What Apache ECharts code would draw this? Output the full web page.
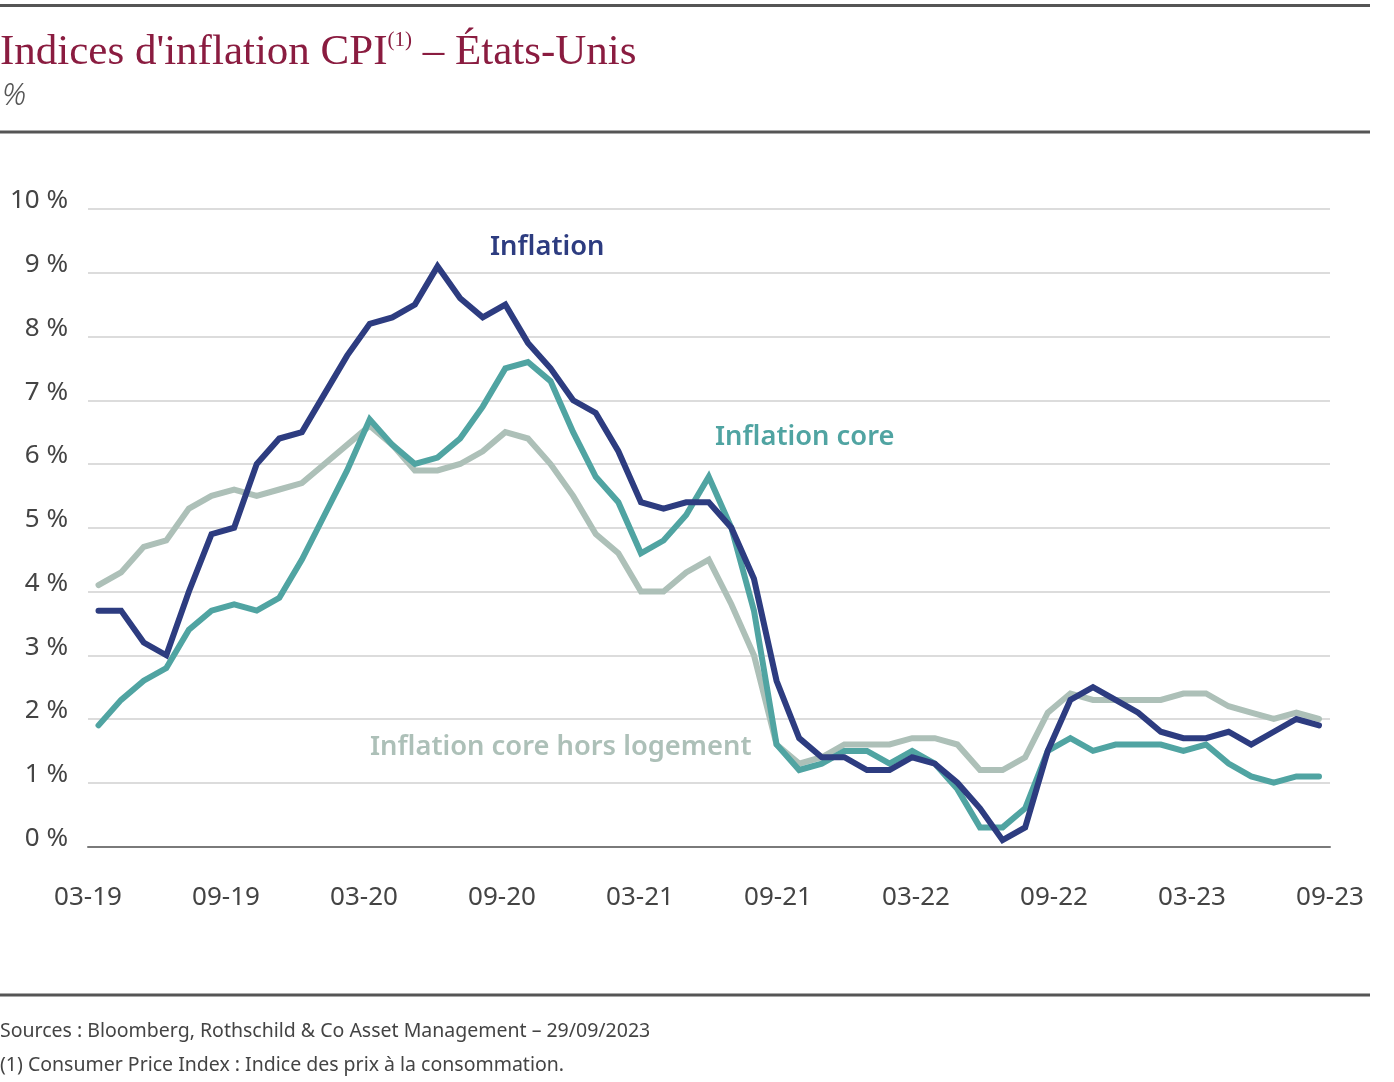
<!DOCTYPE html>
<html><head><meta charset="utf-8">
<script src="https://cdn.jsdelivr.net/npm/echarts@6/dist/echarts.min.js"></script>
<style>html,body{margin:0;padding:0;background:#fff}#c{width:1394px;height:1082px}</style>
</head><body><div id="c"></div>
<script>
const months = ["03-19","04-19","05-19","06-19","07-19","08-19","09-19","10-19","11-19","12-19",
"01-20","02-20","03-20","04-20","05-20","06-20","07-20","08-20","09-20","10-20","11-20","12-20",
"01-21","02-21","03-21","04-21","05-21","06-21","07-21","08-21","09-21","10-21","11-21","12-21",
"01-22","02-22","03-22","04-22","05-22","06-22","07-22","08-22","09-22","10-22","11-22","12-22",
"01-23","02-23","03-23","04-23","05-23","06-23","07-23","08-23","09-23"];
const inflation = [3.7,3.7,3.2,3.0,4.0,4.9,5.0,6.0,6.4,6.5,7.1,7.7,8.2,8.3,8.5,9.1,8.6,8.3,8.5,7.9,7.5,7.0,6.8,6.2,5.4,5.3,5.4,5.4,5.0,4.2,2.6,1.7,1.4,1.4,1.2,1.2,1.4,1.3,1.0,0.6,0.1,0.3,1.5,2.3,2.5,2.3,2.1,1.8,1.7,1.7,1.8,1.6,1.8,2.0,1.9];
const core = [1.9,2.3,2.6,2.8,3.4,3.7,3.8,3.7,3.9,4.5,5.2,5.9,6.7,6.3,6.0,6.1,6.4,6.9,7.5,7.6,7.3,6.5,5.8,5.4,4.6,4.8,5.2,5.8,5.0,3.7,1.6,1.2,1.3,1.5,1.5,1.3,1.5,1.3,0.9,0.3,0.3,0.6,1.5,1.7,1.5,1.6,1.6,1.6,1.5,1.6,1.3,1.1,1.0,1.1,1.1];
const coreExHousing = [4.1,4.3,4.7,4.8,5.3,5.5,5.6,5.5,5.6,5.7,6.0,6.3,6.6,6.3,5.9,5.9,6.0,6.2,6.5,6.4,6.0,5.5,4.9,4.6,4.0,4.0,4.3,4.5,3.8,3.0,1.6,1.3,1.4,1.6,1.6,1.6,1.7,1.7,1.6,1.2,1.2,1.4,2.1,2.4,2.3,2.3,2.3,2.3,2.4,2.4,2.2,2.1,2.0,2.1,2.0];
const seriesNames = ["Inflation", "Inflation core", "Inflation core hors logement"];
const colors = ["#2d3c80", "#50a4a2", "#adc0b8"];

const chart = echarts.init(document.getElementById('c'), null, {renderer: 'canvas'});
const sans = 'Noto Sans';
function lineSeries(name, data, color, z) {
  return {name, type: 'line', xAxisIndex: 1, yAxisIndex: 1, data, symbol: 'none', z,
    lineStyle: {color, width: 6, cap: 'round', join: 'miter'}};
}
chart.setOption({
  animation: false,
  backgroundColor: '#fff',
  grid: [
    {left: 88, right: 64, top: 209, bottom: 235.5},
    {left: 98.5, right: 75, top: 209, bottom: 235.5}
  ],
  xAxis: [
    {gridIndex: 0, type: 'category', data: months, boundaryGap: false,
     axisLine: {show: true, lineStyle: {color: '#7a7a7a', width: 2}},
     axisTick: {show: false}, splitLine: {show: false},
     axisLabel: {interval: 5, color: '#444', fontSize: 26, fontFamily: sans, margin: 38, lineHeight: 26}},
    {gridIndex: 1, type: 'category', data: months, boundaryGap: false, show: false}
  ],
  yAxis: [
    {gridIndex: 0, type: 'value', min: 0, max: 10, interval: 1,
     axisLine: {show: false}, axisTick: {show: false},
     splitLine: {lineStyle: {color: '#dcdcdc', width: 2}},
     axisLabel: {formatter: v => v + ' %', color: '#444', fontSize: 26, fontFamily: sans, margin: 20, lineHeight: 16, verticalAlign: 'bottom'}},
    {gridIndex: 1, type: 'value', min: 0, max: 10, interval: 1, show: false, splitLine: {show: false}}
  ],
  series: [
    lineSeries(seriesNames[2], coreExHousing, colors[2], 2),
    lineSeries(seriesNames[1], core, colors[1], 3),
    lineSeries(seriesNames[0], inflation, colors[0], 4)
  ],
  graphic: [
    {type: 'rect', shape: {x: 0, y: 4, width: 1370, height: 3}, style: {fill: '#555'}},
    {type: 'rect', shape: {x: 0, y: 130.5, width: 1370, height: 3}, style: {fill: '#555'}},
    {type: 'rect', shape: {x: 0, y: 993.5, width: 1370, height: 3}, style: {fill: '#555'}},
    {type: 'text', x: 0, y: 53, style: {
      text: "{a|Indices d'inflation CPI}{s|(1)}{a| – États-Unis}",
      textVerticalAlign: 'middle',
      rich: {
        a: {fontFamily: 'Liberation Serif', fontSize: 43, fill: '#8a1c40', lineHeight: 46},
        s: {fontFamily: 'Liberation Serif', fontSize: 21, fill: '#8a1c40', verticalAlign: 'top', lineHeight: 22}
      }}},
    {type: 'text', x: 2, y: 96, style: {text: '%', fontFamily: sans, fontStyle: 'italic', fontWeight: 300, fontSize: 31, fill: '#555', textVerticalAlign: 'middle'}},
    {type: 'text', x: 490, y: 247, style: {text: seriesNames[0], fontFamily: sans, fontWeight: 600, fontSize: 27.3, fill: colors[0], textVerticalAlign: 'middle'}},
    {type: 'text', x: 715, y: 437, style: {text: seriesNames[1], fontFamily: sans, fontWeight: 600, fontSize: 27.3, fill: colors[1], textVerticalAlign: 'middle'}},
    {type: 'text', x: 370, y: 747, style: {text: seriesNames[2], fontFamily: sans, fontWeight: 600, fontSize: 27.3, fill: colors[2], textVerticalAlign: 'middle'}},
    {type: 'text', x: 0, y: 1031, style: {text: 'Sources : Bloomberg, Rothschild & Co Asset Management – 29/09/2023', fontFamily: sans, fontSize: 19.5, fill: '#444', textVerticalAlign: 'middle'}},
    {type: 'text', x: 0, y: 1065, style: {text: '(1) Consumer Price Index : Indice des prix à la consommation.', fontFamily: sans, fontSize: 19.5, fill: '#444', textVerticalAlign: 'middle'}}
  ]
});
</script>
</body></html>
